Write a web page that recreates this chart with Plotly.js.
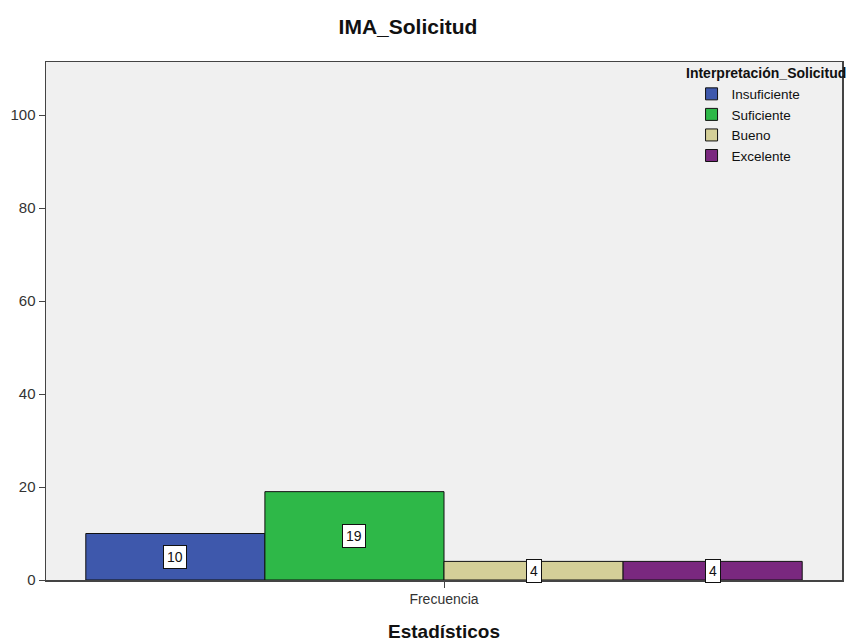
<!DOCTYPE html>
<html>
<head>
<meta charset="utf-8">
<script src="https://cdn.plot.ly/plotly-3.0.1.min.js"></script>
<style>html,body{margin:0;padding:0;background:#fff;}#chart{width:850px;height:642px;}</style>
</head>
<body>
<div id="chart"></div>
<script>
var categories = ['Insuficiente', 'Suficiente', 'Bueno', 'Excelente'];
var values = [10, 19, 4, 4];
var colors = ['#3E58AC', '#2EB848', '#D4CF98', '#7A287F'];
var xLabel = 'Frecuencia';

var bargap = 0.1;
var FONT = 'Liberation Sans, Arial, sans-serif';

var traces = categories.map(function (c, i) {
  return {
    type: 'bar', name: c, x: [xLabel], y: [values[i]],
    marker: {color: colors[i], line: {color: '#111', width: 1}},
    hoverinfo: 'name+y'
  };
});

var groupW = 1 - bargap, barW = groupW / categories.length;
var annotations = values.map(function (v, i) {
  return {
    xref: 'x', yref: 'y', x: -groupW / 2 + (i + 0.5) * barW, y: v / 2,
    text: String(v), showarrow: false,
    font: {family: FONT, size: 14, color: '#111'},
    bgcolor: '#ffffff', bordercolor: '#111', borderwidth: 1, borderpad: 3
  };
});
annotations.push({
  xref: 'paper', yref: 'paper', x: 1.0075, y: 1.0, xanchor: 'right', yanchor: 'top', yshift: -1,
  text: '<b>Interpretación_Solicitud</b>', showarrow: false,
  font: {family: FONT, size: 14, color: '#111'}
});

var layout = {
  width: 850, height: 642,
  margin: {l: 46, r: 8, t: 62, b: 62},
  paper_bgcolor: '#ffffff', plot_bgcolor: '#f0f0f0',
  font: {family: FONT, size: 13, color: '#333'},
  title: {text: '<b>IMA_Solicitud</b>', x: 0.48, xanchor: 'center', y: 0.958, yanchor: 'middle',
          font: {family: FONT, size: 21, color: '#111'}},
  barmode: 'group', bargap: bargap, bargroupgap: 0,
  showlegend: true,
  legend: {x: 0.811, xanchor: 'left', y: 0.968, yanchor: 'top', bgcolor: 'rgba(0,0,0,0)',
           font: {family: FONT, size: 13.5, color: '#111'}, tracegroupgap: 0, itemclick: false},
  xaxis: {type: 'category', showline: true, linecolor: '#444', linewidth: 1.5, mirror: true,
          ticks: 'outside', ticklen: 6, tickcolor: '#444', showgrid: false,
          tickfont: {family: FONT, size: 14, color: '#333'},
          title: {text: '<b>Estadísticos</b>', standoff: 18, font: {family: FONT, size: 19, color: '#111'}}},
  yaxis: {range: [0, 111.4], dtick: 20, showline: true, linecolor: '#444', linewidth: 1.5, mirror: true,
          ticks: 'outside', ticklen: 6, tickcolor: '#444', showgrid: false, zeroline: false,
          tickfont: {family: FONT, size: 15, color: '#333'}},
  annotations: annotations
};

Plotly.newPlot('chart', traces, layout, {displayModeBar: false, staticPlot: true});
</script>
</body>
</html>
